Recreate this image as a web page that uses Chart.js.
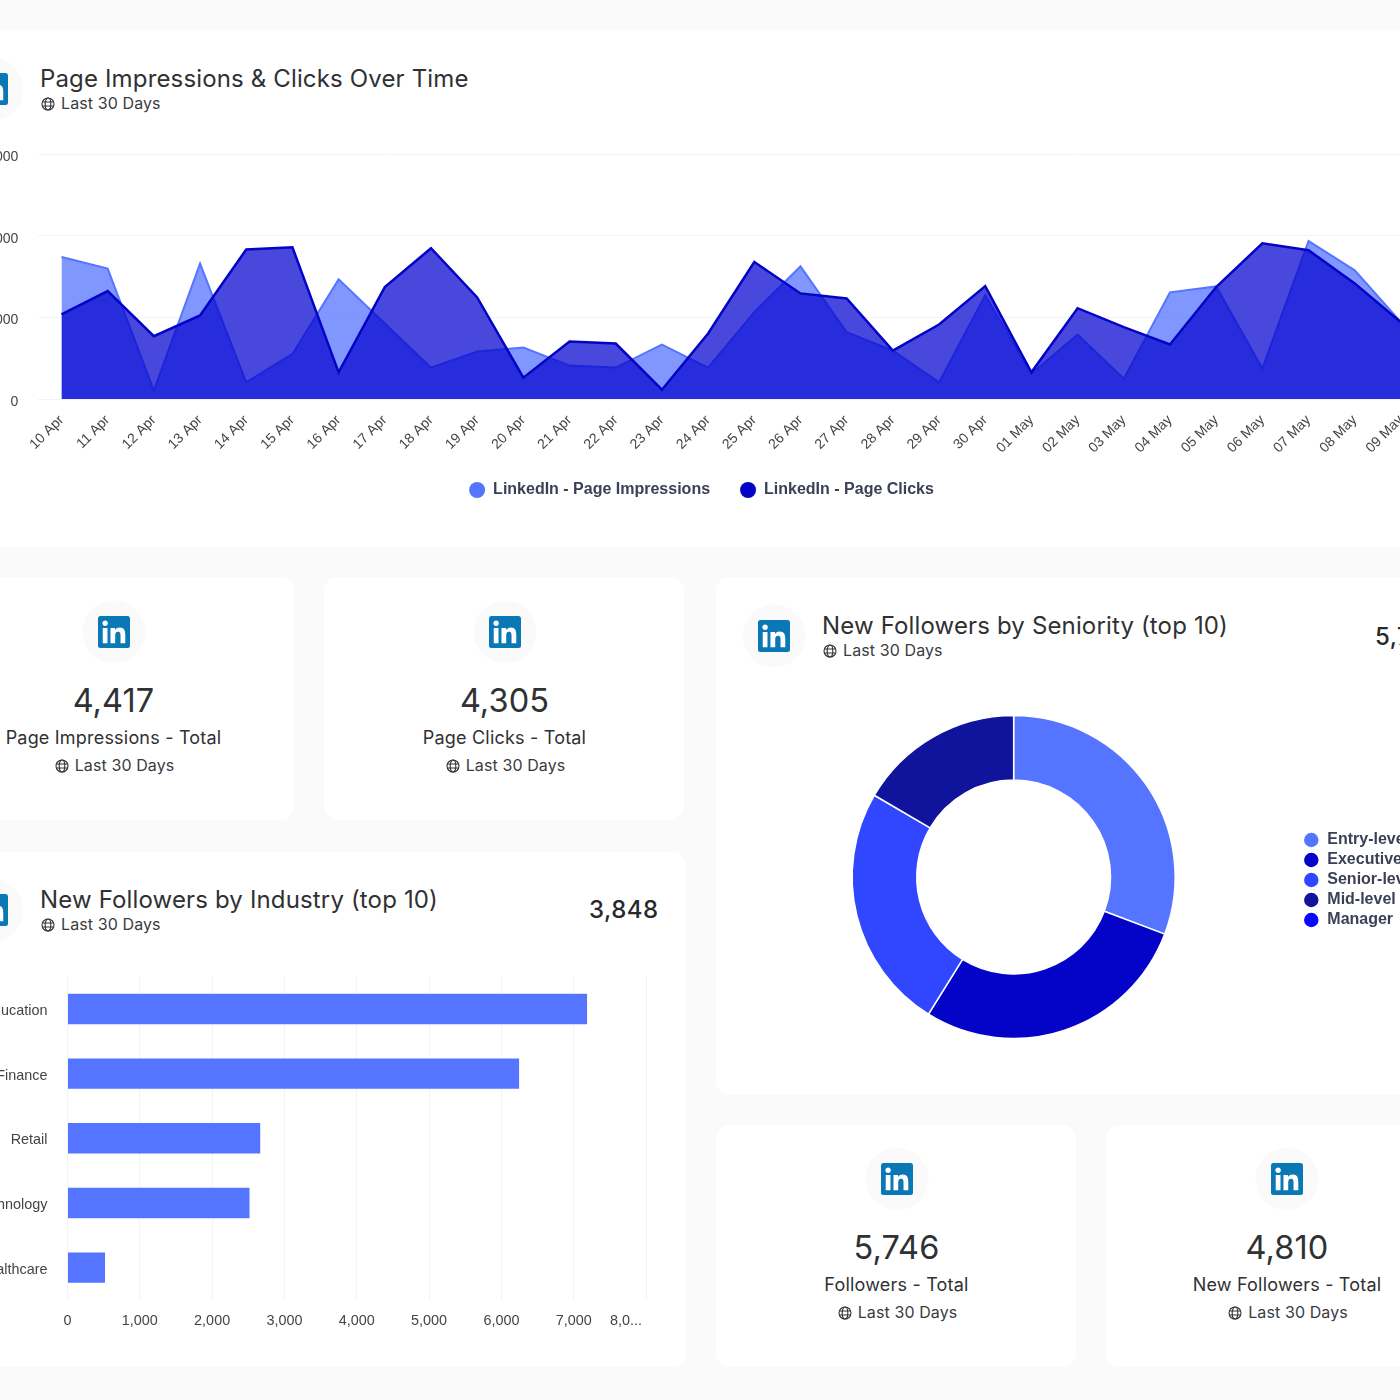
<!DOCTYPE html>
<html>
<head>
<meta charset="utf-8">
<title>LinkedIn report</title>
<script src="https://cdn.jsdelivr.net/npm/chart.js@4/dist/chart.umd.min.js"></script>
<style>
  html, body { margin: 0; padding: 0; width: 1400px; height: 1400px; overflow: hidden; background: #fafafa; }
  body { position: relative; font-family: Inter, sans-serif; color: #2f3133; }
  .card { position: absolute; background: #fff; border-radius: 14px; }
  canvas { position: absolute; display: block; }
  .txt { position: absolute; white-space: nowrap; }
  .title { font-size: 24px; letter-spacing: 0.15px; line-height: 30px; }
  .sub { font-size: 16px; letter-spacing: 0.1px; line-height: 20px; color: #3a3c3f; }
  .big { font-size: 24px; font-weight: 500; letter-spacing: 0.5px; line-height: 32px; color: #26282a; }
  .num { font-size: 32.5px; letter-spacing: 0.1px; line-height: 40px; text-align: center; width: 300px; }
  .lab { font-size: 18px; letter-spacing: 0.2px; line-height: 24px; text-align: center; width: 300px; }
  .subc { text-align: center; width: 300px; }
  .subc svg, .sub svg { vertical-align: -2px; margin-right: 6px; }
  .ico { position: absolute; }
</style>
</head>
<body>

<script>
const days = ['10 Apr','11 Apr','12 Apr','13 Apr','14 Apr','15 Apr','16 Apr','17 Apr','18 Apr','19 Apr',
  '20 Apr','21 Apr','22 Apr','23 Apr','24 Apr','25 Apr','26 Apr','27 Apr','28 Apr','29 Apr','30 Apr',
  '01 May','02 May','03 May','04 May','05 May','06 May','07 May','08 May','09 May'];
const impressions = [1742,1599,102,1661,204,553,1467,926,385,582,631,410,385,668,385,1065,1627,819,594,204,1271,311,791,250,1308,1381,373,1938,1578,942];
const clicks = [1037,1324,770,1025,1833,1861,327,1373,1849,1246,262,705,680,114,803,1680,1295,1234,594,914,1385,327,1114,881,668,1373,1910,1824,1418,942];

const industries = ['Education','Finance','Retail','Technology','Healthcare'];
const industryValues = [7185,6245,2665,2517,519];

const seniority = ['Entry-level','Executive','Senior-level','Mid-level','Manager'];
const seniorityValues = [1767,1614,1414,951,0];
const seniorityColors = ['#5574ff','#0404c8','#3047ff','#10149c','#0808ff'];

const statCards = [
  { value: '4,417', label: 'Page Impressions - Total', cx: 113.5, top: 0 },
  { value: '4,305', label: 'Page Clicks - Total', cx: 504.5, top: 0 },
  { value: '5,746', label: 'Followers - Total', cx: 896.5, top: 547 },
  { value: '4,810', label: 'New Followers - Total', cx: 1287, top: 547 }
];

const GLOBE = '<svg width="14" height="14" viewBox="0 0 14 14" fill="none" stroke="#333" stroke-width="1.1">' +
  '<circle cx="7" cy="7" r="6"/><ellipse cx="7" cy="7" rx="2.8" ry="6"/><path d="M1.4 5h11.2M1.4 9h11.2"/></svg>';
const IN_PATH = 'M20.447 20.452h-3.554v-5.569c0-1.328-.027-3.037-1.852-3.037-1.853 0-2.136 1.445-2.136 2.939v5.667H9.351V9h3.414v1.561h.046c.477-.9 1.637-1.85 3.37-1.85 3.601 0 4.267 2.37 4.267 5.455v6.286zM5.337 7.433c-1.144 0-2.063-.926-2.063-2.065 0-1.138.92-2.063 2.063-2.063 1.14 0 2.064.925 2.064 2.063 0 1.139-.925 2.065-2.064 2.065zm1.782 13.019H3.555V9h3.564v11.452zM22.225 0H1.771C.792 0 0 .774 0 1.729v20.542C0 23.227.792 24 1.771 24h20.451C23.2 24 24 23.227 24 22.271V1.729C24 .774 23.2 0 22.222 0h.003z';

function add(cls, left, top, html, style) {
  const el = document.createElement('div');
  el.className = cls;
  el.style.left = left + 'px';
  el.style.top = top + 'px';
  if (style) el.style.cssText += style;
  el.innerHTML = html;
  document.body.appendChild(el);
  return el;
}

function card(left, top, right, bottom) {
  add('card', left, top, '', 'width:' + (right - left) + 'px;height:' + (bottom - top) + 'px');
}

// round badge with the linkedin square, centred on cx/cy
function badge(cx, cy) {
  add('ico', cx - 32, cy - 32,
    '<svg width="64" height="64" viewBox="0 0 64 64"><circle cx="32" cy="32" r="31.5" fill="#fafafa"/>' +
    '<g transform="translate(16 16) scale(1.3333)"><rect x="1" y="1" width="22" height="22" fill="#fff"/>' +
    '<path d="' + IN_PATH + '" fill="#0a78b5"/></g></svg>');
}

function heading(left, top, text) {
  add('txt title', left, top, text);
  add('txt sub', left + 1, top + 29, GLOBE + 'Last 30 Days');
}

function addCanvas(id, left, top, w, h) {
  const c = document.createElement('canvas');
  c.id = id;
  c.width = w;
  c.height = h;
  c.style.left = left + 'px';
  c.style.top = top + 'px';
  document.body.appendChild(c);
  return c;
}

// legend dots are solid even where the dataset fill is translucent
function solidDots(chart) {
  return Chart.defaults.plugins.legend.labels.generateLabels(chart).map(function(item) {
    item.fillStyle = item.strokeStyle;
    item.lineWidth = 0;
    return item;
  });
}

// page cards
card(-20, 30, 1420, 547);
card(-20, 577, 294, 820);
card(324, 577, 684, 820);
card(716, 577, 1420, 1095);
card(-20, 852, 686, 1367);
card(716, 1125, 1076, 1367);
card(1106, 1125, 1420, 1367);

badge(-8, 89);
heading(40, 64, 'Page Impressions &amp; Clicks Over Time');
badge(774, 636);
heading(822, 611, 'New Followers by Seniority (top 10)');
add('txt big', 1375, 621, '5,746');
badge(-8, 910);
heading(40, 885, 'New Followers by Industry (top 10)');
add('txt big', 589, 894, '3,848');

statCards.forEach(function(s) {
  badge(s.cx, 632 + s.top);
  add('txt num', s.cx - 150, 681 + s.top, s.value);
  add('txt lab', s.cx - 150, 726 + s.top, s.label);
  add('txt sub subc', s.cx - 149, 755 + s.top, GLOBE + 'Last 30 Days');
});

Chart.defaults.font.family = '"Liberation Sans", Arial, sans-serif';
Chart.defaults.font.size = 14;
Chart.defaults.color = '#444';
Chart.defaults.animation = false;
Chart.defaults.responsive = false;

const legendFont = { family: '"Liberation Sans", Arial, sans-serif', size: 16, weight: 'bold' };
const legendColor = '#3b4056';

new Chart(addCanvas('lineChart', -21, 126, 1445, 382), {
  type: 'line',
  data: {
    labels: days,
    datasets: [
      { label: 'LinkedIn - Page Impressions', data: impressions, order: 2, borderColor: '#5574ff', backgroundColor: 'rgba(85,116,255,0.75)', fill: 'origin', borderWidth: 2, tension: 0, pointRadius: 0 },
      { label: 'LinkedIn - Page Clicks', data: clicks, order: 1, borderColor: '#0404c8', backgroundColor: 'rgba(8,8,208,0.74)', fill: 'origin', borderWidth: 2.5, tension: 0, pointRadius: 0 }
    ]
  },
  options: {
    layout: { padding: { top: 7.25 } },
    plugins: {
      tooltip: { enabled: false },
      legend: {
        position: 'bottom',
        labels: {
          usePointStyle: true, pointStyle: 'circle', boxWidth: 20, boxHeight: 11.3, padding: 30,
          color: legendColor, font: legendFont, generateLabels: solidDots,
          sort: function(a, b) { return a.datasetIndex - b.datasetIndex; }
        }
      }
    },
    scales: {
      x: {
        offset: true,
        grid: { display: false },
        border: { display: false },
        ticks: { autoSkip: false, minRotation: 45, maxRotation: 45, padding: 5, font: { size: 14 } },
        afterFit: function(s) { s.height = 53; }
      },
      y: {
        min: 0,
        max: 3000,
        grid: { color: '#f3f3f3', drawTicks: false },
        border: { display: false },
        ticks: { stepSize: 1000, padding: 20, labelOffset: 3, callback: function(v) { return v.toLocaleString('en-US'); } },
        afterFit: function(s) { s.width = 59.4; }
      }
    }
  }
});

new Chart(addCanvas('industryChart', -40, 956, 734, 390), {
  type: 'bar',
  data: {
    labels: industries,
    datasets: [{ label: 'New Followers', data: industryValues, backgroundColor: '#5574ff', barPercentage: 0.47, categoryPercentage: 1 }]
  },
  options: {
    indexAxis: 'y',
    layout: { padding: { top: 10, right: 34 } },
    plugins: { legend: { display: false }, tooltip: { enabled: false } },
    scales: {
      x: {
        min: 0,
        max: 8000,
        grid: { color: '#f3f3f3', drawTicks: false },
        border: { display: false },
        ticks: {
          stepSize: 1000,
          maxRotation: 0,
          autoSkip: false,
          padding: 12,
          font: { size: 14.4 },
          // last label gets cut short and pushed left, trailing spaces keep it off the edge
          callback: function(v) { return v === 8000 ? '8,0...          ' : v.toLocaleString('en-US'); }
        },
        afterFit: function(s) { s.height = 46; }
      },
      y: {
        grid: { display: false },
        border: { display: false },
        ticks: { padding: 12, labelOffset: 2, font: { size: 14.4 } },
        afterFit: function(s) { s.width = 107.5; }
      }
    }
  }
});

new Chart(addCanvas('seniorityChart', 728, 680, 700, 394), {
  type: 'doughnut',
  data: {
    labels: seniority,
    datasets: [{ data: seniorityValues, backgroundColor: seniorityColors, borderColor: '#fff', borderWidth: 1.5 }]
  },
  options: {
    radius: 161.5,
    cutout: '60%',
    plugins: {
      tooltip: { enabled: false },
      legend: {
        position: 'right',
        align: 'center',
        // blank title nudges the column of items down a little
        title: { display: true, text: ' ', padding: 0, font: { size: 5 } },
        labels: { usePointStyle: true, pointStyle: 'circle', boxWidth: 20, boxHeight: 11.3, padding: 4, color: legendColor, font: legendFont }
      }
    }
  }
});
</script>
</body>
</html>
